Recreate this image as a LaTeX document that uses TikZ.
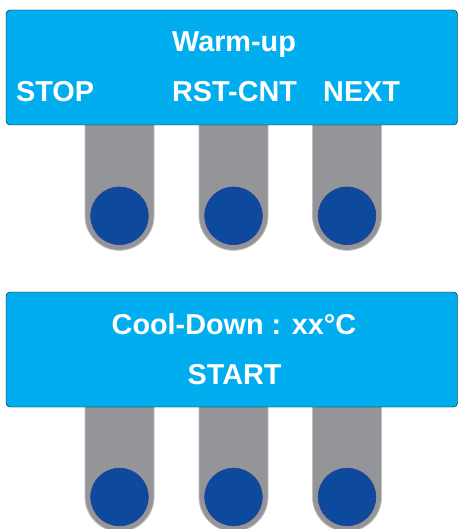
\documentclass[tikz,border=0pt]{standalone}
\usepackage{fontspec}
\setmainfont{Liberation Sans}
\usepackage{tikz}
\definecolor{panelcyan}{HTML}{00AEEF}
\definecolor{pillgrey}{HTML}{939598}
\definecolor{knobblue}{HTML}{0D4A9E}
\definecolor{knobedge}{HTML}{2B3990}
\tikzset{
	panel/.style={fill=panelcyan, rounded corners=4pt},
	pill/.style={fill=pillgrey, draw=pillgrey!60, line width=0.8pt},
	knob/.style={fill=knobblue, draw=knobedge, line width=0.6pt},
	label/.style={text=white, font=\bfseries\fontsize{28.8}{30}\selectfont, inner sep=0pt}
}
\def\pillknob(#1:#2:#3){\draw[pill] ({#1-34.5}, #2) -- ({#1-34.5}, #3) arc[start angle=180, end angle=0, radius=34.5] -- ({#1+34.5}, #2) -- cycle;
	\draw[knob] (#1, #3) circle (28.8);}

\begin{document}
\begin{tikzpicture}[x=1pt, y=-1pt]
			%%%%% START %%%%%
			
			\useasboundingbox (0, 0) rectangle (458, 529);
			\clip (0, 0) rectangle (458, 529);
			
			\pillknob(119.5:120:215.8)
			\pillknob(233.5:120:215.8)
			\pillknob(347:120:215.8)
			
			\draw[panel] (6, 10) rectangle (457.5, 125);
			\node[label, anchor=base] (warmup) at (234, 52) {Warm-up};
			\node[label, anchor=base west] (stop) at (16, 101.7) {STOP};
			\node[label, anchor=base west] (rstcnt) at (172, 101.7) {RST-CNT};
			\node[label, anchor=base west] (next) at (323, 101.7) {NEXT};
			
			\pillknob(119.5:400:497)
			\pillknob(233.5:400:497)
			\pillknob(347:400:497)
			
			\draw[panel] (6, 292) rectangle (457.5, 407);
			\node[label, anchor=base] (cooldown) at (234, 334) {Cool-Down : xx°C};
			\node[label, anchor=base] (start) at (234.5, 384) {START};
			
			%%%%% END %%%%%
		\end{tikzpicture}
\end{document}
